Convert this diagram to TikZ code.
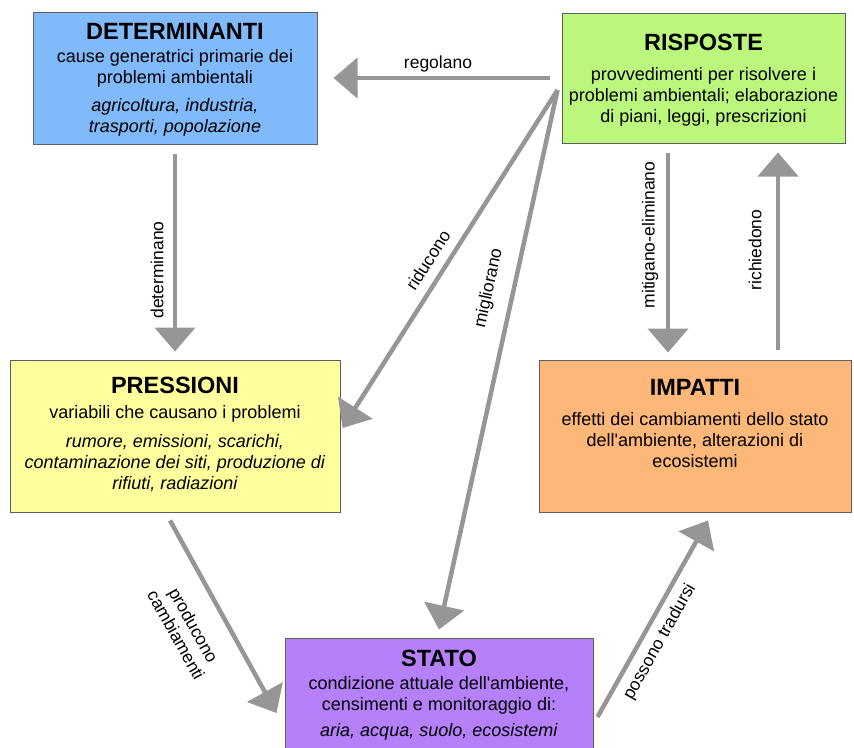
\documentclass[tikz,border=0pt]{standalone}
\usepackage{fontspec}
\setmainfont{Liberation Sans}
\usetikzlibrary{arrows.meta}

\definecolor{detblue}{RGB}{128,186,250}
\definecolor{risgreen}{RGB}{187,247,125}
\definecolor{preyellow}{RGB}{255,255,158}
\definecolor{imporange}{RGB}{253,183,120}
\definecolor{stapurple}{RGB}{181,128,250}
\definecolor{boxline}{RGB}{95,95,95}
\definecolor{arrgray}{RGB}{150,150,150}

\begin{document}
\begin{tikzpicture}[x=1pt, y=-1pt,
  box/.style={draw=boxline, line width=1pt, inner sep=0pt},
  ttl/.style={anchor=base, inner sep=0pt, font=\fontsize{23.5}{26}\selectfont\bfseries},
  txt/.style={anchor=north, align=center, inner sep=0pt, font=\fontsize{18}{21}\selectfont},
  lbl/.style={inner sep=0pt, font=\fontsize{17.5}{20}\selectfont},
  arr/.style={draw=arrgray, line width=4.5pt, -{Triangle[width=40pt, length=24pt]}},
]
  \useasboundingbox (0,0) rectangle (854,747);

  % boxes
  \node[box, fill=detblue, minimum width=284pt, minimum height=132pt] (det) at (175,78) {};
  \node[box, fill=risgreen, minimum width=283pt, minimum height=130pt] (ris) at (703.5,78) {};
  \node[box, fill=preyellow, minimum width=330pt, minimum height=152pt] (pre) at (175,436) {};
  \node[box, fill=imporange, minimum width=312pt, minimum height=152pt] (imp) at (695,436) {};
  \node[box, fill=stapurple, minimum width=308pt, minimum height=116pt] (sta) at (439,696) {};

  % texts
  \node[ttl] (det-t) at (175,39.5) {DETERMINANTI};
  \node[txt] (det-b) at (175,49) {cause generatrici primarie dei\\problemi ambientali\\[7pt]
    \textit{agricoltura, industria,}\\\textit{trasporti, popolazione}};
  \node[ttl] (ris-t) at (703.5,50) {RISPOSTE};
  \node[txt] (ris-b) at (703.5,67) {provvedimenti per risolvere i\\problemi ambientali; elaborazione\\di piani, leggi, prescrizioni};
  \node[ttl] (pre-t) at (175,393) {PRESSIONI};
  \node[txt] (pre-b) at (175,405) {variabili che causano i problemi\\[8pt]
    \textit{rumore, emissioni, scarichi,}\\\textit{contaminazione dei siti, produzione di}\\\textit{rifiuti, radiazioni}};
  \node[ttl] (imp-t) at (695,395) {IMPATTI};
  \node[txt] (imp-b) at (695,412) {effetti dei cambiamenti dello stato\\dell\textquotesingle ambiente, alterazioni di\\ecosistemi};
  \node[ttl] (sta-t) at (439,666) {STATO};
  \node[txt] (sta-b) at (439,676) {condizione attuale dell\textquotesingle ambiente,\\censimenti e monitoraggio di:\\[5pt]
    \textit{aria, acqua, suolo, ecosistemi}};

  % arrows
  \coordinate (ris-out) at ([xshift=-4pt, yshift=-12pt]ris.west);
  \coordinate (mit-top) at ([xshift=-35.5pt]ris.south);
  \coordinate (ric-bot) at ([xshift=83pt]imp.north);
  \draw[arr, shorten <=12pt, shorten >=16pt] (ris) -- (det);
  \draw[arr, shorten <=9pt, shorten >=8pt] (det) -- (pre);
  \draw[arr] (ris-out) -- ([xshift=2pt, yshift=8pt]pre.east);
  \draw[arr] (ris-out) -- ([yshift=8pt]sta.north);
  \draw[arr, shorten <=9pt, shorten >=7pt] (mit-top) -- (mit-top |- imp.north);
  \draw[arr, shorten <=10pt, shorten >=9pt] (ric-bot) -- (ric-bot |- ris.south);
  \draw[arr] ([xshift=-5pt, yshift=-8pt]pre.south) -- ([xshift=-8pt, yshift=-17pt]sta.west);
  \draw[arr] ([xshift=4pt, yshift=-21pt]sta.east) -- ([xshift=13pt, yshift=-8pt]imp.south);

  % labels
  \node[lbl] (l-reg) at (438,63.5) {regolano};
  \node[lbl, rotate=90] (l-det) at (157,270) {determinano};
  \node[lbl, rotate=57.4] (l-rid) at (428,260) {riducono};
  \node[lbl, rotate=77.7] (l-mig) at (489,288) {migliorano};
  \node[lbl, rotate=90] (l-mit) at (650,235) {mitigano-eliminano};
  \node[lbl, rotate=90] (l-ric) at (755,250) {richiedono};
  \node[lbl, rotate=-61, align=center] (l-pro) at (185,630) {producono\\cambiamenti};
  \node[lbl, rotate=60.6] (l-pos) at (660,642) {possono tradursi};
\end{tikzpicture}
\end{document}
